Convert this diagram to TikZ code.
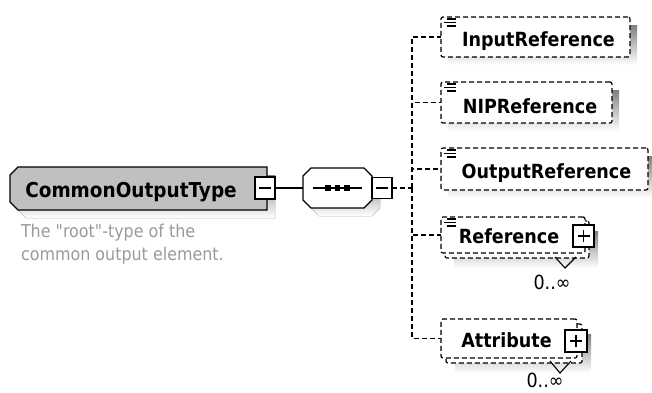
\documentclass[tikz,border=0pt]{standalone}
\usepackage{fontspec}
\setmainfont{DejaVu Sans}[FakeStretch=0.9, Ligatures=TeXOff]
\usetikzlibrary{backgrounds}
\definecolor{shade}{HTML}{C4C4C4}
\definecolor{rootfill}{HTML}{C0C0C0}
\definecolor{note}{HTML}{9A9A9A}
\begin{document}
\begin{tikzpicture}[x=1pt,y=-1pt,
  every node/.style={inner sep=0pt, outer sep=0pt},
  elbox/.style={draw, line width=1.2pt, dash pattern=on 5pt off 3pt, fill=white, rounded corners=2pt},
  btn/.style={draw, line width=1.1pt, fill=white, solid, minimum width=21pt, minimum height=22pt},
  conn/.style={line width=1.2pt, dash pattern=on 5pt off 3pt},
  iconline/.style={line width=1.2pt, solid},
  lbl/.style={font=\bfseries\fontsize{19.5}{22}\selectfont, anchor=base},
  occ/.style={font=\fontsize{19.5}{22}\selectfont, anchor=base}]
\useasboundingbox (0,0) rectangle (652,392);

% ---- root type ----
\node[minimum width=257pt, minimum height=43pt] (root) at (138.5,188.5) {};
\filldraw[fill=rootfill, line width=1.3pt]
  ([shift={(8,0)}]root.north west) -- (root.north east) -- (root.south east)
  -- ([shift={(8,0)}]root.south west) -- ([shift={(0,-8)}]root.south west)
  -- ([shift={(0,8)}]root.north west) -- cycle;
\node[font=\bfseries\fontsize{20.5}{24}\selectfont, anchor=base] (troot) at (131,197) {CommonOutputType};
\node[btn, minimum width=20pt] (rmin) at (265,188) {};
\draw[line width=1.1pt] ([shift={(-6,0)}]rmin.center) -- ([shift={(6,0)}]rmin.center);
\node[font=\fontsize{17.7}{23}\selectfont, text=note, align=left, anchor=north west] (tdesc) at (21,224)
  {The "root"-type of the\\common output element.};

% ---- sequence compositor ----
\node[minimum width=69pt, minimum height=40pt] (seq) at (337.5,188) {};
\filldraw[fill=white, line width=1.3pt]
  ([shift={(8,0)}]seq.north west) -- ([shift={(-8,0)}]seq.north east) -- ([shift={(0,8)}]seq.north east)
  -- ([shift={(0,-8)}]seq.south east) -- ([shift={(-8,0)}]seq.south east) -- ([shift={(8,0)}]seq.south west)
  -- ([shift={(0,-8)}]seq.south west) -- ([shift={(0,8)}]seq.north west) -- cycle;
\draw[line width=1.2pt] ([shift={(10,0)}]seq.west) -- ([shift={(-10,0)}]seq.east);
\foreach \dx in {-9.5,0,9.5}
  \fill ([shift={({\dx-2.6},-2.6)}]seq.center) rectangle ++(5.2,5.2);
\node[btn, minimum width=20pt, minimum height=21pt] (smin) at (382,188) {};
\draw[line width=1.1pt] ([shift={(-6,0)}]smin.center) -- ([shift={(6,0)}]smin.center);

\draw[line width=1.2pt] (rmin.east) -- (rmin.east -| seq.west);

% ---- child elements ----
\node[elbox, minimum width=189pt, minimum height=40pt] (inref) at (535.5,37) {};
\node[elbox, minimum width=171pt, minimum height=41pt] (nipref) at (526.5,102.5) {};
\node[elbox, minimum width=207pt, minimum height=42pt] (outref) at (544.5,169) {};
\node[elbox, minimum width=144pt, minimum height=37pt] (refback) at (517,239.5) {};
\node[elbox, minimum width=144pt, minimum height=36pt] (ref) at (513,235) {};
\node[elbox, minimum width=136pt, minimum height=39pt] (attrback) at (514,343.5) {};
\node[elbox, minimum width=136pt, minimum height=39pt] (attr) at (509,338.5) {};

\node[lbl] (tin) at (538.5,46.5) {InputReference};
\node[lbl] (tnip) at (530,113) {NIPReference};
\node[lbl] (tout) at (546.5,178) {OutputReference};
\node[lbl] (tref) at (509,243) {Reference};
\node[lbl] (tattr) at (506.5,347) {Attribute};

% list icons
\foreach \b in {inref,nipref,outref,ref} {
  \draw[iconline] ([shift={(6,2)}]\b.north west) -- ++(9,0);
  \draw[iconline] ([shift={(3,5.5)}]\b.north west) -- ++(12,0);
  \draw[iconline] ([shift={(6,9)}]\b.north west) -- ++(9,0);
}

% expand buttons
\node[btn] (refplus) at (583.5,236) {};
\draw[line width=1.1pt] ([shift={(-6,0)}]refplus.center) -- ([shift={(6,0)}]refplus.center)
  ([shift={(0,-6)}]refplus.center) -- ([shift={(0,6)}]refplus.center);
\node[btn, minimum width=22pt] (attrplus) at (576,341) {};
\draw[line width=1.1pt] ([shift={(-6,0)}]attrplus.center) -- ([shift={(6,0)}]attrplus.center)
  ([shift={(0,-6)}]attrplus.center) -- ([shift={(0,6)}]attrplus.center);

% repetition marks
\draw[line width=1.1pt] (555,257) -- (565,268) -- (576,257);
\draw[line width=1.1pt] (550,361) -- (560,373) -- (571,361);
\node[occ] (occref) at (552,289) {0..∞};
\node[occ] (occattr) at (545,387) {0..∞};

% ---- connectors ----
\coordinate (jn) at (412,188);
\draw[conn] (smin.east) -- (jn);
\foreach \b in {inref,nipref,outref,ref,attr}
  \draw[conn] (jn) |- (\b.west);

% ---- drop shadows ----
\begin{scope}[on background layer]
  \fill[shade, transform canvas={shift={(8pt,-8pt)}}]
    ([shift={(8,0)}]root.north west) -- (root.north east) -- (root.south east)
    -- ([shift={(8,0)}]root.south west) -- ([shift={(0,-8)}]root.south west)
    -- ([shift={(0,8)}]root.north west) -- cycle;
  \fill[shade, transform canvas={shift={(8pt,-8pt)}}]
    ([shift={(8,0)}]seq.north west) -- ([shift={(-8,0)}]seq.north east) -- ([shift={(0,8)}]seq.north east)
    -- ([shift={(0,-8)}]seq.south east) -- ([shift={(-8,0)}]seq.south east) -- ([shift={(8,0)}]seq.south west)
    -- ([shift={(0,-8)}]seq.south west) -- ([shift={(0,8)}]seq.north west) -- cycle;
  \foreach \b in {inref,nipref,outref}
    \fill[shade] ([shift={(7,8)}]\b.north west) rectangle ([shift={(7,8)}]\b.south east);
  \foreach \b in {refback,attrback}
    \fill[shade] ([shift={(9,10)}]\b.north west) rectangle ([shift={(9,10)}]\b.south east);
\end{scope}
\end{tikzpicture}
\end{document}
